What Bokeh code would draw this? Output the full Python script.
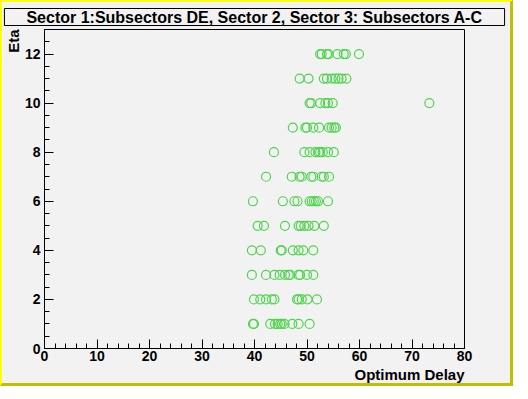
from bokeh.plotting import figure
from bokeh.models import Range1d, Title, SingleIntervalTicker
from bokeh.embed import file_html
from bokeh.resources import INLINE

# Data: (Optimum Delay, Eta) pairs
delay_eta12 = [52.5, 52.8, 53.8, 54.1, 55.8, 57.0, 57.4, 59.9]
delay_eta11 = [48.6, 50.3, 53.2, 53.8, 54.7, 55.4, 56.0, 56.6, 57.5]
delay_eta10 = [50.5, 50.8, 52.5, 53.5, 54.0, 54.9, 73.3]
delay_eta9 = [47.3, 49.7, 50.0, 51.2, 52.3, 54.2, 54.7, 55.2, 55.5]
delay_eta8 = [43.7, 49.5, 50.5, 51.6, 52.2, 52.5, 53.0, 54.0, 55.1]
delay_eta7 = [42.2, 47.1, 48.6, 49.0, 50.8, 51.2, 52.8, 53.2, 54.2]
delay_eta6 = [39.7, 45.4, 47.6, 48.2, 50.5, 50.9, 51.3, 51.7, 52.1, 54.0]
delay_eta5 = [40.6, 41.8, 45.8, 48.4, 48.8, 49.5, 50.3, 51.4, 53.2]
delay_eta4 = [39.5, 41.2, 45.0, 45.2, 47.3, 48.4, 49.3, 51.2]
delay_eta3 = [39.5, 42.2, 43.8, 44.8, 45.8, 46.5, 46.8, 48.4, 48.7, 50.0, 51.2]
delay_eta2 = [39.9, 41.1, 42.2, 43.3, 43.8, 48.1, 48.4, 49.0, 50.1, 51.9]
delay_eta1 = [39.7, 39.9, 43.0, 43.9, 44.4, 44.9, 45.2, 45.7, 47.2, 48.4, 50.5]

rows = {1: delay_eta1, 2: delay_eta2, 3: delay_eta3, 4: delay_eta4, 5: delay_eta5,
        6: delay_eta6, 7: delay_eta7, 8: delay_eta8, 9: delay_eta9, 10: delay_eta10,
        11: delay_eta11, 12: delay_eta12}
delay = []
eta = []
for e, ds in rows.items():
    for d in ds:
        delay.append(d)
        eta.append(e)

title_text = "Sector 1:Subsectors DE, Sector 2, Sector 3: Subsectors A-C"
x_title = "Optimum Delay"
y_title = "Eta"

BG = "#f2f2f2"
FONT = "Liberation Sans"

p = figure(frame_width=420, frame_height=319, output_backend="svg", toolbar_location=None,
           x_range=Range1d(0, 80), y_range=Range1d(0, 13),
           min_border_left=41, min_border_right=46,
           min_border_top=27, min_border_bottom=35, title=None)
p.background_fill_color = BG
p.border_fill_color = BG
p.outline_line_color = "black"
p.outline_line_width = 1
p.grid.visible = False
# ROOT-style canvas bevel
p.styles = {"border-style": "solid", "border-width": "2px 3px 3px 2px",
            "border-color": "#ffff00 #c0c000 #c0c000 #ffff00"}

p.xaxis.ticker = SingleIntervalTicker(interval=10, num_minor_ticks=5)
p.yaxis.ticker = SingleIntervalTicker(interval=2, num_minor_ticks=4)
for ax in (p.xaxis[0], p.yaxis[0]):
    ax.axis_line_color = "black"
    ax.major_tick_line_color = "black"
    ax.minor_tick_line_color = "black"
    ax.major_tick_in = 9
    ax.major_tick_out = 0
    ax.minor_tick_in = 5
    ax.minor_tick_out = 0
    ax.major_label_text_font = FONT
    ax.major_label_text_font_style = "bold"
    ax.major_label_text_font_size = "14px"
    ax.major_label_text_color = "black"
p.xaxis.major_label_standoff = 2
p.yaxis.major_label_standoff = 4

p.scatter(delay, eta, marker="circle", size=9, fill_color=None,
          line_color="#4fd44f", line_width=1.2)

t_main = Title(text=title_text, align="center", text_font=FONT, text_font_style="bold",
               text_font_size="16px", text_color="black",
               background_fill_color=BG, border_line_color="black", border_line_width=1,
               padding=dict(left=22, right=22, top=0, bottom=0), standoff=8)
p.add_layout(t_main, "above")

t_x = Title(text=x_title, align="right", text_font=FONT, text_font_style="bold",
            text_font_size="15px", text_color="black", standoff=0)
p.add_layout(t_x, "below")

t_y = Title(text=y_title, align="right", text_font=FONT, text_font_style="bold",
            text_font_size="15px", text_color="black", standoff=0)
p.add_layout(t_y, "left")

open("out.html", "w").write(file_html(p, INLINE))
